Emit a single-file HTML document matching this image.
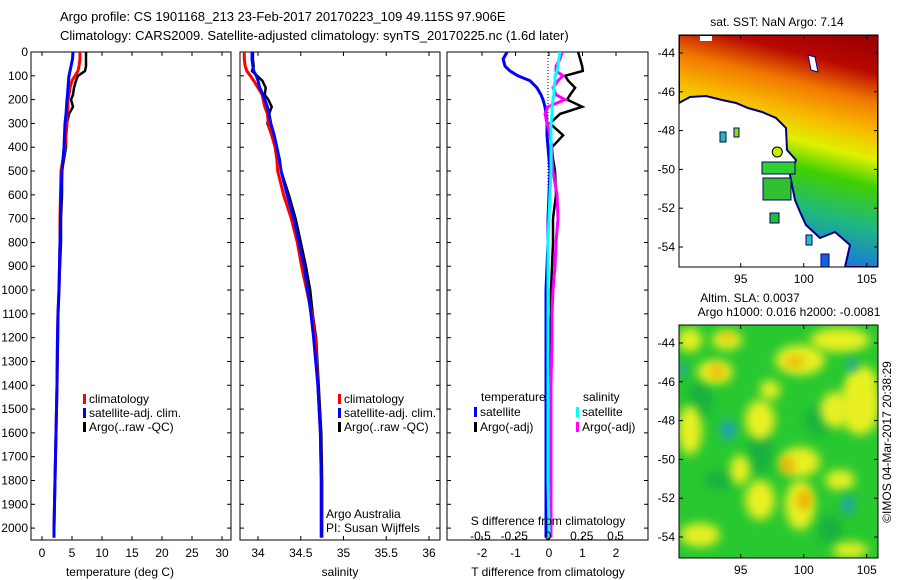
<!DOCTYPE html>
<html><head><meta charset="utf-8"><style>
body{margin:0;background:#fff;}
svg{display:block;font-family:"Liberation Sans",sans-serif;}
</style></head><body>
<svg id="fig" width="900" height="580" viewBox="0 0 900 580">
<defs>
<clipPath id="c1"><rect x="31" y="52" width="200" height="488"/></clipPath>
<clipPath id="c2"><rect x="240" y="52" width="200" height="488"/></clipPath>
<clipPath id="c3"><rect x="447" y="52" width="201" height="488"/></clipPath>
<clipPath id="cm1"><rect x="679" y="35" width="199" height="232"/></clipPath>
<clipPath id="cm2"><rect x="679" y="325" width="199" height="233"/></clipPath>
<linearGradient id="sstg" gradientUnits="userSpaceOnUse" x1="835" y1="35" x2="780" y2="250">
<stop offset="0" stop-color="#a00000"/><stop offset="0.12" stop-color="#b80800"/><stop offset="0.25" stop-color="#f07800"/>
<stop offset="0.38" stop-color="#f8b800"/><stop offset="0.5" stop-color="#e0f000"/><stop offset="0.62" stop-color="#40d000"/>
<stop offset="0.8" stop-color="#20b880"/><stop offset="1" stop-color="#1878e0"/></linearGradient>
<filter id="bl" x="-50%" y="-50%" width="200%" height="200%"><feGaussianBlur stdDeviation="5"/></filter>
</defs>
<text x="60" y="21" font-size="13">Argo profile: CS 1901168_213 23-Feb-2017 20170223_109 49.115S 97.906E</text>
<text x="60" y="40" font-size="13">Climatology: CARS2009. Satellite-adjusted climatology: synTS_20170225.nc (1.6d later)</text>
<g id="plots"></g>
<g id="maps"></g>
</svg>
<script>
// ---- data ----
const depths=[0,30,60,80,100,120,150,180,200,230,260,300,350,400,450,500,600,700,800,900,1000,1100,1200,1400,1600,1800,2000,2040];
const tempClim=[6.33,6.33,6.17,6.0,5.5,5.0,4.67,4.5,4.33,4.33,4.17,4.17,4.0,3.83,3.5,3.17,3.08,3.0,3.0,2.92,2.83,2.67,2.58,2.5,2.33,2.17,2.0,2.0];
const tempSat=[5.17,5.08,4.83,4.67,4.5,4.42,4.33,4.25,4.17,4.08,4.0,3.83,3.75,3.67,3.5,3.33,3.17,3.08,3.0,2.92,2.83,2.67,2.58,2.5,2.33,2.17,2.0,2.0];
const tempArgo=[7.33,7.33,7.33,7.17,6.0,5.67,5.33,5.17,4.83,5.17,4.5,4.17,4.0,4.0,3.67,3.33,3.33,3.17,3.17,3.0,2.83,2.67,2.67,2.5,2.33,2.17,2.0,2.0];
const salClim=[33.84,33.84,33.85,33.87,33.91,33.95,34.0,34.05,34.06,34.08,34.11,34.12,34.16,34.20,34.22,34.23,34.30,34.39,34.46,34.51,34.57,34.63,34.67,34.70,34.73,34.74,34.74,34.74];
const salSat=[33.93,33.93,33.94,33.95,33.98,34.0,34.02,34.06,34.08,34.11,34.13,34.15,34.19,34.22,34.25,34.27,34.34,34.42,34.48,34.54,34.58,34.62,34.65,34.70,34.73,34.74,34.74,34.74];
const salArgo=[33.94,33.94,33.95,33.93,33.99,34.05,34.09,34.08,34.12,34.16,34.13,34.11,34.16,34.21,34.25,34.27,34.36,34.44,34.50,34.56,34.61,34.64,34.68,34.71,34.74,34.75,34.75,34.75];
const dTsat=[-1.25,-1.37,-1.31,-1.16,-0.93,-0.57,-0.36,-0.24,-0.18,-0.12,-0.09,-0.06,-0.06,-0.03,0,0.03,0,-0.03,-0.03,-0.06,-0.09,-0.09,-0.09,-0.09,-0.09,-0.09,-0.09,-0.09];
const dTargo=[0.87,0.93,0.99,1.01,0.48,0.57,0.78,0.63,0.54,0.99,0.33,0.03,0.42,0.09,0.12,0.18,0.21,0.12,0.12,0.09,0.06,0.06,0.03,0.03,0,0,0,0];
const dSsat=[0.089,0.081,0.074,0.067,0.052,0.052,0.044,0.044,0.037,0.030,0.030,0.022,0.022,0.022,0.022,0.022,0.015,0.007,0,0,0,0,0,0,0,0,0.007,0.007];
const dSargo=[0.104,0.089,0.059,0.059,0.111,0.074,0.037,0.059,0.126,0,-0.022,-0.007,0.015,0.030,0.030,0.037,0.067,0.074,0.059,0.052,0.037,0.030,0.030,0.022,0.022,0.022,0.022,0.022];
const depthTicks=[0,100,200,300,400,500,600,700,800,900,1000,1100,1200,1300,1400,1500,1600,1700,1800,1900,2000];
const tempTicks=[0,5,10,15,20,25,30];
const salTicks=[34,34.5,35,35.5,36];
const salTickLabels=["34","34.5","35","35.5","36"];
const dTTicks=[-2,-1,0,1,2];
const dSTicks=[-0.5,-0.25,0,0.25,0.5];
const dSTickLabels=["-0.5","-0.25","0","0.25","0.5"];

const NS="http://www.w3.org/2000/svg";
const plots=document.getElementById('plots');
function mk(tag,attrs,parent){const e=document.createElementNS(NS,tag);for(const k in attrs)e.setAttribute(k,attrs[k]);(parent||plots).appendChild(e);return e;}
const yD=d=>52+d*(488/2050);
const xT=t=>42+(t)*6;
const xS=s=>258+(s-34)*85.5;
const xdT=t=>549+t*33.5;
const xdS=s=>548+s*135;

function panel(x0,w,name,xs,ticks,labels,xlabel,xlabelX,showDepthLabels){
  const g=mk('g',{});
  
  
  const r=mk('rect',{x:x0,y:52,width:w,height:488,fill:'none',stroke:'#000','stroke-width':1},g);
  
  
  depthTicks.forEach(d=>{
    const y=yD(d);
    mk('line',{x1:x0,x2:x0+4,y1:y,y2:y,stroke:'#000'},g);
    mk('line',{x1:x0+w-4,x2:x0+w,y1:y,y2:y,stroke:'#000'},g);
    if(showDepthLabels){const t=mk('text',{x:x0-3,y:y+4,'font-size':12,'text-anchor':'end'},g);t.textContent=d;
      
      }
  });
  ticks.forEach((v,i)=>{
    const x=xs(v);
    mk('line',{x1:x,x2:x,y1:540,y2:536,stroke:'#000'},g);
    mk('line',{x1:x,x2:x,y1:52,y2:56,stroke:'#000'},g);
    const t=mk('text',{x:x,y:557,'font-size':12,'text-anchor':'middle'},g);t.textContent=labels[i];
    
    
  });
  const xl=mk('text',{x:xlabelX,y:576,'font-size':12,'text-anchor':'middle'},g);xl.textContent=xlabel;
  
  
  return g;
}
function series(vals,xs,color,width,clip,name){
  const pts=vals.map((v,i)=>xs(v).toFixed(1)+','+yD(depths[i]).toFixed(1)).join(' ');
  const p=mk('polyline',{points:pts,fill:'none',stroke:color,'stroke-width':width,'stroke-linejoin':'miter','clip-path':'url(#'+clip+')'});
  
  
}
function legend(x,y,color,label,name){
  const m=mk('rect',{x:x,y:y-9,width:3,height:10,fill:color});
  
  
  const t=mk('text',{x:x+6,y:y,'font-size':12});t.textContent=label;
  
  
}
function txt(x,y,s,name,anchor){const t=mk('text',{x:x,y:y,'font-size':12,'text-anchor':anchor||'start'});t.textContent=s;
  
  }

// Panel 1 temperature
panel(31,200,'temperature-panel',xT,tempTicks,tempTicks.map(String),'temperature (deg C)',120,true);
series(tempArgo,xT,'#000',2.5,'c1','temp-argo-line');
series(tempClim,xT,'#f00',3,'c1','temp-climatology-line');
series(tempSat,xT,'#00f',3,'c1','temp-satellite-line');
legend(83,403,'#f00','climatology','legend-climatology');
legend(83,417,'#00f','satellite-adj. clim.','legend-satellite');
legend(83,431,'#000','Argo(..raw -QC)','legend-argo');

// Panel 2 salinity
panel(240,200,'salinity-panel',xS,salTicks,salTickLabels,'salinity',340,false);
series(salArgo,xS,'#000',2.5,'c2','sal-argo-line');
series(salClim,xS,'#f00',3,'c2','sal-climatology-line');
series(salSat,xS,'#00f',3,'c2','sal-satellite-line');
legend(338,403,'#f00','climatology','legend-climatology');
legend(338,417,'#00f','satellite-adj. clim.','legend-satellite');
legend(338,431,'#000','Argo(..raw -QC)','legend-argo');
txt(326,518,'Argo Australia','credit-argo-australia');
txt(326,532,'PI: Susan Wijffels','credit-pi');

// Panel 3 differences
panel(447,201,'difference-panel',xdT,dTTicks,dTTicks.map(String),'T difference from climatology',548,false);
const zl=mk('line',{x1:548,x2:548,y1:52,y2:540,stroke:'#000','stroke-width':1,'stroke-dasharray':'1,2'});


series(dTargo,xdT,'#000',2.5,'c3','dT-argo-line');
series(dTsat,xdT,'#00f',3,'c3','dT-satellite-line');
series(dSargo,xdS,'#f0f',3,'c3','dS-argo-line');
series(dSsat,xdS,'#0ff',3,'c3','dS-satellite-line');
txt(481,401,'temperature','legend-temperature-heading');
legend(474,416,'#00f','satellite','legend-t-satellite');
legend(474,431,'#000','Argo(-adj)','legend-t-argo');
txt(583,401,'salinity','legend-salinity-heading');
legend(576,416,'#0ff','satellite','legend-s-satellite');
legend(576,431,'#f0f','Argo(-adj)','legend-s-argo');
txt(548,525,'S difference from climatology','s-axis-title','middle');
dSTicks.forEach((v,i)=>txt(xdS(v),540,dSTickLabels[i],'s-tick-label','middle'));

// ---- maps ----
const maps=document.getElementById('maps');
function mm(tag,attrs,parent){const e=document.createElementNS(NS,tag);for(const k in attrs)e.setAttribute(k,attrs[k]);(parent||maps).appendChild(e);return e;}
const lonTicks=[95,100,105];
const latTicks=[-44,-46,-48,-50,-52,-54];
const mx=lon=>679+(lon-90.1)*12.6;
function mapAxes(top,h,name,g){
  const r=mm('rect',{x:679,y:top,width:199,height:h,fill:'none',stroke:'#000'},g);
  
  
  const my=lat=>top+18+(-44-lat)*19.4;
  latTicks.forEach(l=>{const y=my(l);mm('line',{x1:679,x2:683,y1:y,y2:y,stroke:'#000'},g);mm('line',{x1:874,x2:878,y1:y,y2:y,stroke:'#000'},g);
    const t=mm('text',{x:675,y:y+4,'font-size':12,'text-anchor':'end'},g);t.textContent=l;
    
    });
  lonTicks.forEach(l=>{const x=mx(l);mm('line',{x1:x,x2:x,y1:top+h,y2:top+h-4,stroke:'#000'},g);mm('line',{x1:x,x2:x,y1:top,y2:top+4,stroke:'#000'},g);
    const t=mm('text',{x:x,y:top+h+16,'font-size':12,'text-anchor':'middle'},g);t.textContent=l;
    
    });
}
// SST map
const g1=mm('g',{});


const gc1=mm('g',{'clip-path':'url(#cm1)'},g1);
mm('rect',{x:679,y:35,width:199,height:232,fill:'#fff'},gc1);
mm('polygon',{points:'679,35 878,35 878,267 845,267 850,245 835,232 820,238 806,225 800,212 795,200 790,175 796,160 787,150 786,128 776,118 762,112 748,108 736,103 722,100 706,96 690,97 679,103',fill:'url(#sstg)',stroke:'#000080','stroke-width':2},gc1);
mm('rect',{x:762,y:162,width:33,height:12,fill:'#30d030',stroke:'#000080'},gc1);
mm('rect',{x:763,y:178,width:28,height:22,fill:'#30c030',stroke:'#000080'},gc1);
mm('rect',{x:770,y:213,width:9,height:10,fill:'#20c030',stroke:'#000080'},gc1);
mm('rect',{x:720,y:132,width:6,height:10,fill:'#20c0a0',stroke:'#000080'},gc1);
mm('rect',{x:734,y:128,width:5,height:9,fill:'#90e000',stroke:'#000080'},gc1);
mm('rect',{x:821,y:254,width:8,height:13,fill:'#1060e0',stroke:'#000080'},gc1);
mm('rect',{x:806,y:235,width:6,height:10,fill:'#20c0c0',stroke:'#000080'},gc1);
mm('polygon',{points:'808,55 815,57 818,72 811,70',fill:'#fff',stroke:'#000080'},gc1);
mm('rect',{x:700,y:36,width:12,height:5,fill:'#fff'},gc1);
const dot=mm('circle',{cx:mx(97.9),cy:35+18+(49.1-44)*19.4,r:5,fill:'#c0f000',stroke:'#000','stroke-width':1},g1);


mapAxes(35,232,'sst-map',g1);
const st=mm('text',{x:777,y:26,'font-size':12,'text-anchor':'middle'},g1);st.textContent='sat. SST: NaN Argo: 7.14';


const a1=mm('text',{x:750,y:302,'font-size':12,'text-anchor':'middle'},g1);a1.textContent='Altim. SLA: 0.0037';


const a2=mm('text',{x:789,y:316,'font-size':12,'text-anchor':'middle'},g1);a2.textContent='Argo h1000: 0.016 h2000: -0.0081';



// SLA map
const g2=mm('g',{});


const gc2=mm('g',{'clip-path':'url(#cm2)'},g2);
mm('rect',{x:679,y:325,width:199,height:233,fill:'#28c830'},gc2);
const blobs=[['#18b040',[[700,400,12,20],[760,450,12,25],[820,420,15,15],[720,480,15,10],[830,530,12,15]]],
['#e8f020',[[727,340,15,10],[715,372,18,12],[800,360,25,15],[840,340,30,12],[860,405,20,30],[690,430,12,25],[760,420,15,20],[800,462,20,15],[840,480,15,10],[760,500,15,20],[800,505,15,25],[700,535,20,12],[850,550,18,8],[770,390,10,10],[835,410,15,18],[690,340,12,12],[740,470,10,15],[862,380,14,14]]],
['#f0a800',[[717,372,7,6],[795,362,9,5],[787,465,7,8],[804,500,7,10],[727,337,5,4]]],
['#20a0b8',[[728,430,8,10],[683,370,4,8],[852,365,6,6],[848,505,6,10]]]];
blobs.forEach(([c,list])=>list.forEach(b=>mm('ellipse',{cx:b[0],cy:b[1],rx:b[2],ry:b[3],fill:c,filter:'url(#bl)'},gc2)));
mapAxes(325,233,'sla-map',g2);
const cp=mm('text',{x:0,y:0,'font-size':12,'text-anchor':'middle',transform:'translate(891,442) rotate(-90)'},g2);cp.textContent='©IMOS 04-Mar-2017 20:38:29';


</script>
</body></html>
